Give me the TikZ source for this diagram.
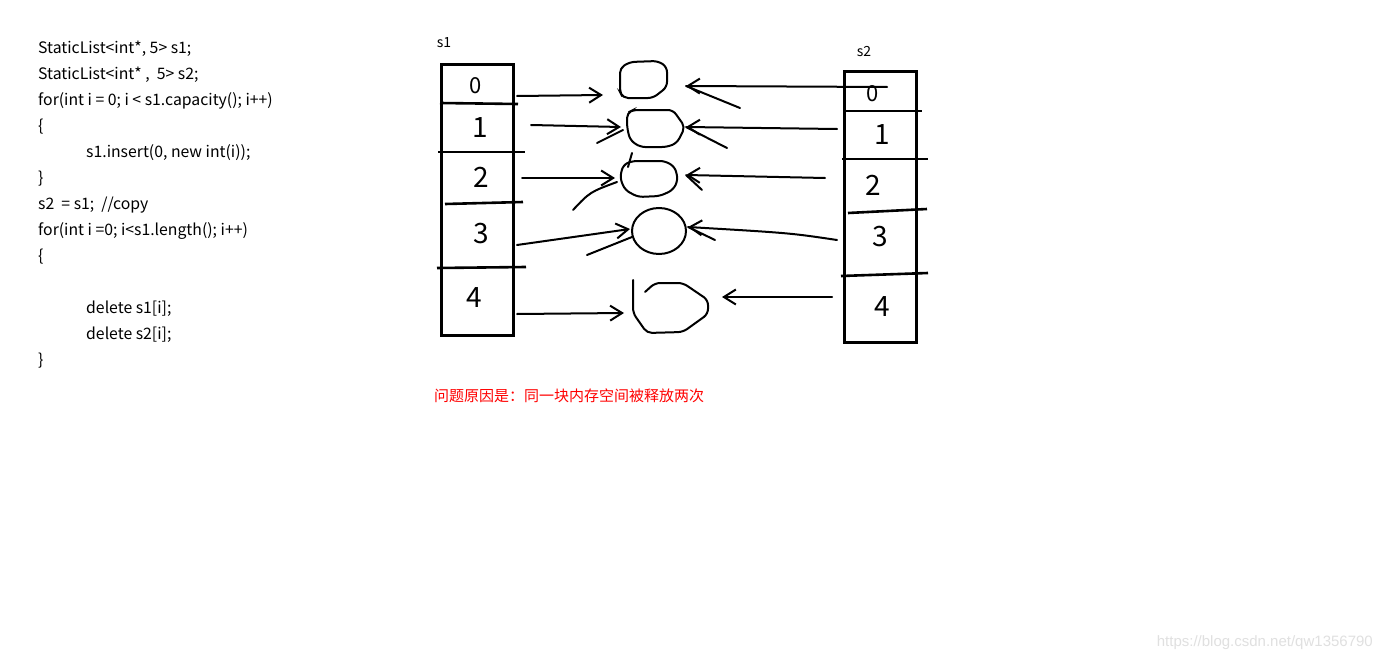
\documentclass[tikz,border=0pt]{standalone}
\usepackage{fontspec}
\newfontfamily\cjk{Noto Sans CJK SC}
\newfontfamily\wm{Liberation Sans}
\usetikzlibrary{arrows.meta}
\begin{document}
\begin{tikzpicture}[x=1pt,y=-1pt,
  code/.style={anchor=west, font=\cjk\fontsize{15.8}{17}\selectfont, inner sep=0pt, text=black, yshift=-2pt},
  listbox/.style={draw, line width=3pt, minimum width=72pt, minimum height=270pt, inner sep=0pt},
  divider/.style={line width=2.6pt},
  digit/.style={font=\cjk\fontsize{28}{28}\selectfont, inner sep=0pt},
  conn/.style={line width=2pt, line cap=round, -{Straight Barb[length=12pt,width=15pt,line width=2pt]}},
  blob/.style={line width=2pt, rounded corners=5pt, line cap=round},
  scribble/.style={line width=2pt, line cap=round},
  lbl/.style={font=\cjk\fontsize{14}{16}\selectfont, inner sep=0pt}
]
\useasboundingbox (0,0) rectangle (1382,661);
\fill[white] (0,0) rectangle (1382,661);

% code
\node[code] (c1) at (38,47) {StaticList<int*, 5> s1;};
\node[code] (c2) at (38,73) {StaticList<int* ,\ \ 5> s2;};
\node[code] (c3) at (38,99) {for(int i = 0; i < s1.capacity(); i++)};
\node[code] (c4) at (38,125) {\{};
\node[code] (c5) at (86,151) {s1.insert(0, new int(i));};
\node[code] (c6) at (38,177) {\}};
\node[code] (c7) at (38,203) {s2\ \ = s1;\ \ //copy};
\node[code] (c8) at (38,229) {for(int i =0; i<s1.length(); i++)};
\node[code] (c9) at (38,255) {\{};
\node[code] (c10) at (86,307) {delete s1[i];};
\node[code] (c11) at (86,333) {delete s2[i];};
\node[code] (c12) at (38,359) {\}};

% list boxes
\node[lbl] (s1lbl) at (444,43) {s1};
\node[lbl] (s2lbl) at (864,52) {s2};
\node[listbox] (s1box) at (477,200) {};
\node[listbox] (s2box) at (880,207) {};

\draw[divider] (440,103) -- (518,104);
\draw[divider] (438,152) -- (525,152);
\draw[divider] (445,204) -- (523,202);
\draw[divider] (437,268) -- (526,267);

\draw[divider] (843,111) -- (922,111);
\draw[divider] (842,159) -- (928,159);
\draw[divider] (848,213) -- (927,209);
\draw[divider] (841,276) -- (928,273);

% digits
\node[digit] (d10) at (476,86) {\fontsize{22}{22}\selectfont 0};
\node[digit] (d11) at (480,128) {1};
\node[digit] (d12) at (481,177) {2};
\node[digit] (d13) at (481,234) {3};
\node[digit] (d14) at (474,298) {4};
\node[digit] (d20) at (873,94) {\fontsize{22}{22}\selectfont 0};
\node[digit] (d21) at (882,135) {1};
\node[digit] (d22) at (873,185) {2};
\node[digit] (d23) at (880,237) {3};
\node[digit] (d24) at (882,307) {4};

% memory blobs
\draw[blob] (620,68) -- (630,62) -- (658,61) -- (667,67) -- (667,87) -- (653,98) -- (623,98) -- (620,92) -- cycle;
\draw[blob] (627,113) -- (633,110) -- (673,110) -- (685,127) -- (677,143) -- (667,147) -- (640,147) -- (630,140) -- (627,127) -- cycle;
\draw[blob] (632,161) -- (665,161) -- (675,167) -- (678,180) -- (673,190) -- (660,196) -- (638,197) -- (625,190) -- (620,178) -- (623,165) -- cycle;
\draw[line width=2pt] (659,231) ellipse [x radius=27pt, y radius=23pt];
\draw[blob] (633,280) -- (633,313) -- (647,333) -- (683,332) -- (708,314) -- (708,300) -- (683,283) -- (655,283) -- (645,292);

% connector ends
\coordinate (a0) at (517,96);
\coordinate (a1) at (531,125);
\coordinate (a2) at (522,178);
\coordinate (a3) at (517,245);
\coordinate (a4) at (517,314);
\coordinate (l0) at (603,95);
\coordinate (l1) at (621,127);
\coordinate (l2) at (615,178);
\coordinate (l3) at (630,229);
\coordinate (l4) at (624,313);
\coordinate (b0) at (887,87);
\coordinate (b1) at (837,129);
\coordinate (b2) at (825,178);
\coordinate (b3) at (837,240);
\coordinate (b4) at (832,297);
\coordinate (r0) at (686,86);
\coordinate (r1) at (686,127);
\coordinate (r2) at (686,175);
\coordinate (r3) at (688,227);
\coordinate (r4) at (722,297);

\draw[conn] (a0) -- (l0);
\draw[conn] (a1) -- (l1);
\draw[conn] (a2) -- (l2);
\draw[conn] (a3) -- (l3);
\draw[conn] (a4) -- (l4);
\draw[conn] (b0) -- (r0);
\draw[conn] (b1) -- (r1);
\draw[conn] (b2) -- (r2);
\draw[conn] (b3) .. controls (790,233) .. (r3);
\draw[conn] (b4) -- (r4);

% extra strokes
\draw[scribble] (597,143) -- (623,130);
\draw[scribble] (573,210) .. controls (590,192) .. (617,182);
\draw[scribble] (632,153) -- (628,167);
\draw[scribble] (587,255) -- (632,237);
\draw[scribble] (r0) -- (740,108);
\draw[scribble] (r1) -- (727,148);
\draw[scribble] (r2) -- (702,190);
\draw[scribble] (r3) -- (715,240);

% notes
\node[anchor=west, inner sep=0pt, text=red, font=\cjk\fontsize{15}{17}\selectfont] (note) at (434,396) {问题原因是：同一块内存空间被释放两次};
\node[anchor=east, inner sep=0pt, text=black!12, font=\wm\fontsize{15}{16}\selectfont] (wmark) at (1373,643) {https://blog.csdn.net/qw1356790};
\end{tikzpicture}
\end{document}
